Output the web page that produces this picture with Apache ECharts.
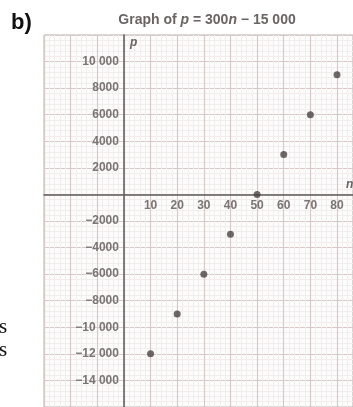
<!DOCTYPE html>
<html>
<head>
<meta charset="utf-8">
<script src="https://cdn.jsdelivr.net/npm/echarts@6/dist/echarts.min.js"></script>
<style>
  html, body { margin: 0; padding: 0; background: #fff; }
  #chart { width: 353px; height: 407px; }
</style>
</head>
<body>
<div id="chart"></div>
<script>
// points (n, p)
const nValues = [10, 20, 30, 40, 50, 60, 70, 80];
const pValues = [-12000, -9000, -6000, -3000, 0, 3000, 6000, 9000];

// tick labels that are printed on the axes
const xTickValues = [10, 20, 30, 40, 50, 60, 70, 80];
const xTickLabels = ['10', '20', '30', '40', '50', '60', '70', '80'];
const yTickValues = [10000, 8000, 6000, 4000, 2000, -2000, -4000, -6000, -8000, -10000, -12000, -14000];
const yTickLabels = ['10 000', '8000', '6000', '4000', '2000', '\u22122000', '\u22124000', '\u22126000',
  '\u22128000', '\u221210 000', '\u221212 000', '\u221214 000'];

const points = nValues.map((n, i) => [n, pValues[i]]);

// axis ranges (the grid paper runs a bit past the plotted values)
const xMin = -30, xMax = 86;
const yMin = -16000, yMax = 12000;

// grid box in pixels
const gridLeft = 44, gridTop = 35, gridW = 353 - 44, gridH = 407 - 35;

// the axes sit on the zero lines, so shift them in from the grid edges
const zeroFromLeft = gridW * (0 - xMin) / (xMax - xMin);
const zeroFromBottom = gridH * (0 - yMin) / (yMax - yMin);

const labelStyle = {
  color: '#7a7474',
  fontFamily: 'Liberation Sans',
  fontWeight: 'bold',
  fontSize: 12
};

let myChart = echarts.init(document.getElementById('chart'));

const option = {
  backgroundColor: '#fff',
  animation: false,
  title: {
    text: '{a|Graph of }{i|p}{a| = 300}{i|n}{a| \u2212 15 000}',
    left: 202,
    top: 8,
    textAlign: 'center',
    textStyle: {
      rich: {
        a: { fontFamily: 'Liberation Sans', fontWeight: 'bold', fontSize: 14, color: '#6a6464' },
        i: { fontFamily: 'Liberation Sans', fontWeight: 'bold', fontStyle: 'italic', fontSize: 14, color: '#6a6464' }
      }
    }
  },
  graphic: [
    { type: 'text', left: 11, top: 12, style: { text: 'b)', font: 'bold 22px "Liberation Sans"', fill: '#111' } },
    { type: 'text', left: -1, top: 317, style: { text: 's', font: '21px "Liberation Serif"', fill: '#111' } },
    { type: 'text', left: -1, top: 340, style: { text: 's', font: '21px "Liberation Serif"', fill: '#111' } }
  ],
  grid: {
    left: gridLeft,
    top: gridTop,
    width: gridW,
    height: gridH,
    outerBoundsMode: 'none',
    show: true,
    backgroundColor: '#fdfcfc',
    borderColor: '#b8aeae',
    borderWidth: 1
  },
  xAxis: {
    type: 'value',
    min: xMin,
    max: xMax,
    interval: 10,
    position: 'bottom',
    offset: -zeroFromBottom,
    name: 'n',
    nameLocation: 'end',
    nameGap: -7,
    nameTextStyle: {
      color: '#6a6464', fontFamily: 'Liberation Sans', fontStyle: 'italic', fontWeight: 'bold', fontSize: 12,
      align: 'left', verticalAlign: 'bottom', padding: [0, 0, 4, 0]
    },
    axisLine: { onZero: false, lineStyle: { color: '#5f5a5a', width: 1.5 } },
    axisTick: { show: false },
    axisLabel: Object.assign({}, labelStyle, {
      margin: 5,
      formatter: (v) => {
        const i = xTickValues.indexOf(v);
        return i >= 0 ? xTickLabels[i] : '';
      }
    }),
    splitLine: { show: true, lineStyle: { color: '#d8c9c9', width: 1.2 } },
    minorTick: { show: false, splitNumber: 5 },
    minorSplitLine: { show: true, lineStyle: { color: '#f3eeee', width: 1 } }
  },
  yAxis: {
    type: 'value',
    min: yMin,
    max: yMax,
    interval: 2000,
    position: 'left',
    offset: -zeroFromLeft,
    name: 'p',
    nameLocation: 'end',
    nameGap: -14,
    nameTextStyle: {
      color: '#6a6464', fontFamily: 'Liberation Sans', fontStyle: 'italic', fontWeight: 'bold', fontSize: 12,
      align: 'left', padding: [0, 0, 0, 6]
    },
    axisLine: { onZero: false, lineStyle: { color: '#5f5a5a', width: 1.5 } },
    axisTick: { show: false },
    axisLabel: Object.assign({}, labelStyle, {
      margin: 5,
      formatter: (v) => {
        const i = yTickValues.indexOf(v);
        return i >= 0 ? yTickLabels[i] : '';
      }
    }),
    splitLine: { show: true, lineStyle: { color: '#d8c9c9', width: 1.2 } },
    minorTick: { show: false, splitNumber: 5 },
    minorSplitLine: { show: true, lineStyle: { color: '#f3eeee', width: 1 } }
  },
  series: [
    {
      name: 'p',
      type: 'scatter',
      data: points,
      symbol: 'circle',
      symbolSize: 7,
      itemStyle: { color: '#4a4242' }
    }
  ]
};

myChart.setOption(option);
</script>
</body>
</html>
